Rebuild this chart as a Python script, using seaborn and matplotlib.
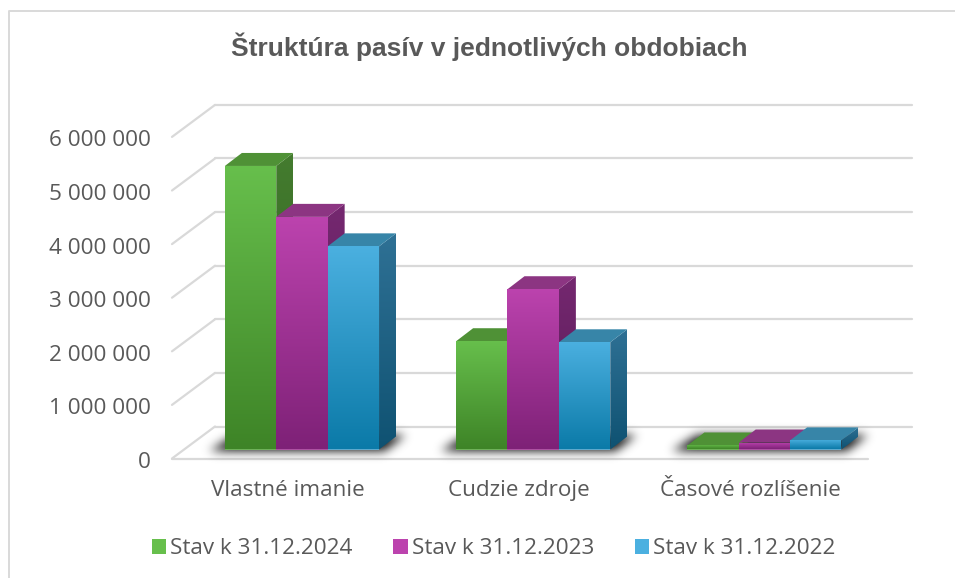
import numpy as np
import pandas as pd
import matplotlib
matplotlib.use("Agg")
import matplotlib.pyplot as plt
import seaborn as sns
from matplotlib.colors import to_rgb
from matplotlib.patches import Patch, Polygon
from matplotlib.transforms import IdentityTransform, ScaledTranslation

categories = ["Vlastné imanie", "Cudzie zdroje", "Časové rozlíšenie"]
series_names = ["Stav k 31.12.2024", "Stav k 31.12.2023", "Stav k 31.12.2022"]
values_2024 = [5290000, 2020000, 75000]
values_2023 = [4340000, 2990000, 130000]
values_2022 = [3790000, 2000000, 170000]
tick_values = [0, 1000000, 2000000, 3000000, 4000000, 5000000, 6000000]
tick_labels = ["0", "1 000 000", "2 000 000", "3 000 000", "4 000 000", "5 000 000", "6 000 000"]
title_text = "Štruktúra pasív v jednotlivých obdobiach"

front_top = ["#67BF4C", "#BC43AE", "#4BB0E0"]
front_bottom = ["#3E8427", "#7E2177", "#0B7AA8"]
top_face = ["#4F9136", "#8C3582", "#3785A8"]
side_top = ["#447C2F", "#752870", "#2F7195"]
side_bottom = ["#2E5C1C", "#561A55", "#0F5272"]
TEXT = "#595959"
GRID = "#D9D9D9"
FS = 16.2

W, H = 955, 578
sns.set_style("white")
plt.rcParams["font.family"] = ["Open Sans", "DejaVu Sans"]
fig = plt.figure(figsize=(W / 100, H / 100), dpi=100)
# plot box in pixels of the bars' front plane
PX_L, PX_R, PX_BASE, PX_TOP = 172, 868, 449.5, 127.9
ax = fig.add_axes([PX_L / W, 1 - PX_BASE / H, (PX_R - PX_L) / W, (PX_BASE - PX_TOP) / H])

df = pd.DataFrame({
    "kategoria": categories * 3,
    "stav": np.repeat(series_names, 3),
    "hodnota": values_2024 + values_2023 + values_2022,
})
sns.barplot(data=df, x="kategoria", y="hodnota", hue="stav", hue_order=series_names,
            order=categories, palette=front_top, width=0.6667, gap=0, dodge=True,
            legend=False, ax=ax, zorder=3, linewidth=0)
ax.set_xlim(-0.562, 2.448)
ax.set_ylim(0, 6000000)
ax.set_autoscale_on(False)
ax.set_xlabel("")
ax.set_ylabel("")
ax.patch.set_visible(False)
for s in ax.spines.values():
    s.set_visible(False)

ax.set_yticks(tick_values)
ax.set_yticklabels(tick_labels)
ax.tick_params(axis="y", length=0, pad=15, labelsize=FS, labelcolor=TEXT)
ax.tick_params(axis="x", length=0, pad=22, labelsize=FS, labelcolor=TEXT)
for lab in ax.get_yticklabels():
    lab.set_transform(lab.get_transform() + ScaledTranslation(0, -10.5 / 100, fig.dpi_scale_trans))
for lab in ax.get_xticklabels():
    lab.set_transform(lab.get_transform() + ScaledTranslation(-14 / 100, 0, fig.dpi_scale_trans))

ID = IdentityTransform()
DEPTH_X, DEPTH_Y = 17, 13          # bar depth in pixels
FRONT_OFF, BACK_OFF = -9, 23       # grid planes relative to the bars' plane
BACK_DX = 43


def y_disp(v):
    return ax.transData.transform((0, v))[1]


def grad(poly, c_top, c_bot, z):
    poly = np.asarray(poly, float)
    x0, x1 = poly[:, 0].min(), poly[:, 0].max()
    y0, y1 = poly[:, 1].min(), poly[:, 1].max()
    t = np.linspace(0, 1, 128)[:, None, None]
    arr = (1 - t) * np.array(to_rgb(c_top))[None, None, :] + t * np.array(to_rgb(c_bot))[None, None, :]
    im = ax.imshow(arr, extent=(x0, x1, y0, y1), origin="upper", aspect="auto",
                   transform=ID, zorder=z, interpolation="bilinear")
    im.set_clip_path(Polygon(poly, closed=True, transform=ID))
    return im


# back wall + left wall + floor grid
for v in tick_values:
    yf = y_disp(v) + FRONT_OFF
    yb = y_disp(v) + BACK_OFF
    ax.plot([PX_L, PX_L + BACK_DX], [yf, yb], color=GRID, lw=1.6, transform=ID, clip_on=False, zorder=1)
    ax.plot([PX_L + BACK_DX, PX_R + 44], [yb, yb], color=GRID, lw=1.6, transform=ID, clip_on=False, zorder=1)
y0f = y_disp(0) + FRONT_OFF
ax.plot([PX_L, PX_R], [y0f, y0f], color=GRID, lw=1.6, transform=ID, clip_on=False, zorder=1)

# soft shadows on the floor under every group
n_cat = len(categories)
n_ser = len(series_names)
bars = [list(c) for c in ax.containers]
for i in range(n_cat):
    xa = bars[0][i].get_x()
    xb = bars[-1][i].get_x() + bars[-1][i].get_width()
    p0 = ax.transData.transform((xa, 0))
    p1 = ax.transData.transform((xb, 0))
    gx0, gx1, gy = int(p0[0]) - 50, int(p1[0]) + 70, int(p0[1])
    gy0 = gy - 14
    gh = 48
    w = gx1 - gx0
    mask = np.zeros((gh, w))
    for r in range(gh):
        yy = gy0 + r  # display y, upwards
        frac = (yy - (gy - 1)) / (DEPTH_Y + 2)
        if 0 <= frac <= 1:
            l = p0[0] - 14 + frac * 24 - gx0
            rr = p1[0] + 6 + frac * 20 - gx0
            mask[r, int(l):int(rr)] = 1
    kernel = np.exp(-0.5 * (np.arange(-16, 17) / 5.0) ** 2)
    kernel /= kernel.sum()
    mask = np.apply_along_axis(lambda c: np.convolve(c, kernel, mode="same"), 0, mask)
    mask = np.apply_along_axis(lambda c: np.convolve(c, kernel, mode="same"), 1, mask)
    rgba = np.zeros((gh, w, 4))
    rgba[..., 3] = np.clip(mask * 1.2, 0, 1) * 0.8
    ax.imshow(rgba, extent=(gx0, gx1, gy0, gy0 + gh), origin="lower", aspect="auto",
              transform=ID, zorder=2, interpolation="bilinear", clip_on=False)

# 3D bar faces, derived from the seaborn bars
z = 4
for s, cont in enumerate(bars):
    for rect in cont:
        x = rect.get_x()
        w_ = rect.get_width()
        h_ = rect.get_height()
        (xl, yb), (xr, yt) = ax.transData.transform([(x, 0), (x + w_, h_)])
        side = [(xr, yb), (xr + DEPTH_X, yb + DEPTH_Y), (xr + DEPTH_X, yt + DEPTH_Y), (xr, yt)]
        top = [(xl, yt), (xr, yt), (xr + DEPTH_X, yt + DEPTH_Y), (xl + DEPTH_X, yt + DEPTH_Y)]
        front = [(xl, yb), (xr, yb), (xr, yt), (xl, yt)]
        grad(side, side_top[s], side_bottom[s], z)
        ax.add_patch(Polygon(top, closed=True, transform=ID, facecolor=top_face[s], edgecolor="none",
                             zorder=z + 0.1, clip_on=False))
        grad(front, front_top[s], front_bottom[s], z + 0.2)
        z += 1

# chart frame
fig.add_artist(plt.Line2D([9 / W, 9 / W, 1], [0, 1 - 11 / H, 1 - 11 / H], color=GRID, lw=1.4))

fig.text(489 / W, 1 - 47 / H, title_text, ha="center", va="center", fontsize=19,
         fontweight="bold", color=TEXT, family=["Liberation Sans", "DejaVu Sans"])

handles = [Patch(facecolor=c, edgecolor="none") for c in front_top]
leg = fig.legend(handles, series_names, loc="center left", bbox_to_anchor=(152 / W, 1 - 549 / H),
                 ncols=3, frameon=False, fontsize=FS, labelcolor=TEXT, borderpad=0, borderaxespad=0,
                 handlelength=0.64, handleheight=0.64, handletextpad=0.18, columnspacing=1.8)

fig.canvas.draw()
leg.set_zorder(5)
for s, h in enumerate(leg.legend_handles):
    bb = h.get_window_extent()
    im = grad([(bb.x0, bb.y0), (bb.x1, bb.y0), (bb.x1, bb.y1), (bb.x0, bb.y1)],
              front_top[s], front_bottom[s], 10)
fig.savefig("out.png", dpi=100, facecolor="white")
